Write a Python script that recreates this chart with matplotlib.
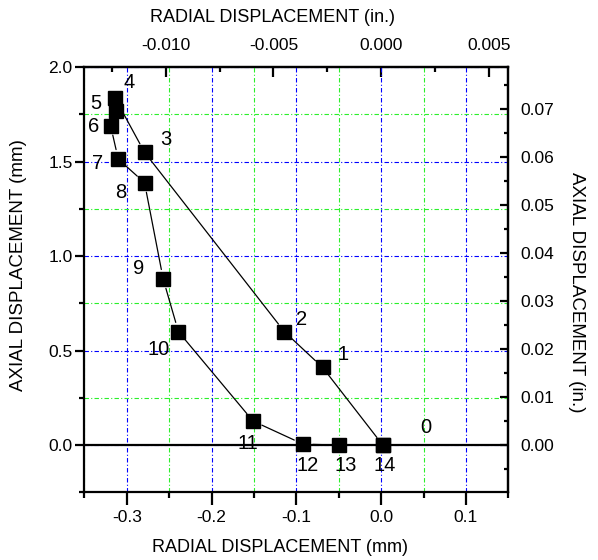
import matplotlib
matplotlib.use('Agg')
import matplotlib.pyplot as plt
from matplotlib.ticker import MultipleLocator, FuncFormatter

plt.rcParams['font.family'] = ['Liberation Sans', 'DejaVu Sans']
plt.rcParams['axes.unicode_minus'] = False

# load steps and the displacement path of the tracked point (mm)
steps = list(range(15))
radial_mm = [0.002, -0.069, -0.114, -0.279, -0.314, -0.313, -0.319, -0.310,
             -0.279, -0.257, -0.239, -0.151, -0.092, -0.050, 0.002]
axial_mm = [0.0, 0.411, 0.600, 1.550, 1.839, 1.770, 1.691, 1.514,
            1.389, 0.879, 0.600, 0.127, 0.005, 0.0, 0.0]

# labelled ticks of the inch scales
radial_in_ticks = [-0.010, -0.005, 0.000, 0.005]
axial_in_ticks = [0.00, 0.01, 0.02, 0.03, 0.04, 0.05, 0.06, 0.07]

# where each step number sits relative to its marker (pixels, y up)
label_offsets = [(43, 18), (20, 13), (17, 12), (21, 13), (14, 15), (-20, 7),
                 (-17, -1), (-21, -4), (-24, -10), (-25, 11), (-20, -18),
                 (-5, -22), (5, -21), (7, -20), (2, -20)]

MM_PER_IN = 25.4
GRID_LS = (0, (4, 2, 1, 2))


def fmt(decimals):
    return FuncFormatter(lambda v, p: f'{round(v, 6) + 0.0:.{decimals}f}')


fig = plt.figure(figsize=(5.98, 5.60), dpi=100)
ax = fig.add_axes([0.141, 0.1209, 0.709, 0.759])
ax.set_xlim(-0.35, 0.15)
ax.set_ylim(-0.25, 2.0)

# grid: blue on major, green on minor divisions
ax.xaxis.set_major_locator(MultipleLocator(0.1))
ax.xaxis.set_minor_locator(MultipleLocator(0.05))
ax.yaxis.set_major_locator(MultipleLocator(0.5))
ax.yaxis.set_minor_locator(MultipleLocator(0.25))
ax.grid(True, which='major', color='#0000ff', lw=0.8, ls=GRID_LS)
ax.grid(True, which='minor', color='#2af02a', lw=0.8, ls=GRID_LS)
ax.set_axisbelow(True)
ax.axhline(0.0, color='black', lw=1.6, zorder=2)

# path between consecutive steps, stopping short of the markers
for i in range(len(steps) - 1):
    ax.annotate('', xy=(radial_mm[i + 1], axial_mm[i + 1]),
                xytext=(radial_mm[i], axial_mm[i]),
                arrowprops=dict(arrowstyle='-', color='black', lw=0.9,
                                shrinkA=7, shrinkB=7), zorder=3)
ax.plot(radial_mm, axial_mm, ls='none', marker='s', ms=10,
        color='black', zorder=4)

for s, x, y, off in zip(steps, radial_mm, axial_mm, label_offsets):
    ax.annotate(str(s), (x, y), xytext=off, textcoords='offset pixels',
                ha='center', va='center', fontsize=14.5, zorder=5)

for side in ['left', 'right', 'top', 'bottom']:
    ax.spines[side].set_linewidth(1.6)

ax.tick_params(which='both', top=False, right=False, width=1.6, labelsize=12.5)
ax.tick_params(axis='x', which='major', direction='out', length=9, pad=4)
ax.tick_params(axis='x', which='minor', direction='out', length=4.5)
ax.tick_params(axis='y', which='major', direction='out', length=6.5, pad=2)
ax.tick_params(axis='y', which='minor', direction='out', length=3.5)
ax.xaxis.set_major_formatter(fmt(1))
ax.yaxis.set_major_formatter(fmt(1))

# inch scales on the opposite sides
top = ax.secondary_xaxis('top', functions=(lambda v: v / MM_PER_IN,
                                           lambda v: v * MM_PER_IN))
top.set_xticks(radial_in_ticks)
top.xaxis.set_minor_locator(MultipleLocator(0.0025))
top.xaxis.set_major_formatter(fmt(3))
top.tick_params(which='both', direction='in', width=1.6, labelsize=12.5)
top.tick_params(which='major', length=7, pad=10)
top.tick_params(which='minor', length=3.5)
top.spines['top'].set_linewidth(1.6)

right = ax.secondary_yaxis('right', functions=(lambda v: v / MM_PER_IN,
                                               lambda v: v * MM_PER_IN))
right.set_yticks(axial_in_ticks)
right.yaxis.set_minor_locator(MultipleLocator(0.005))
right.yaxis.set_major_formatter(fmt(2))
right.tick_params(which='both', direction='in', width=1.6, labelsize=12.5)
right.tick_params(which='major', length=6, pad=9)
right.tick_params(which='minor', length=3)
right.spines['right'].set_linewidth(1.6)

W, H = 598, 560
fig.text(280 / W, 1 - 548 / H, 'RADIAL DISPLACEMENT (mm)', ha='center',
         va='center', fontsize=13)
fig.text(272 / W, 1 - 18 / H, 'RADIAL DISPLACEMENT (in.)', ha='center',
         va='center', fontsize=13)
fig.text(19 / W, 1 - 265 / H, 'AXIAL DISPLACEMENT (mm)', ha='center',
         va='center', rotation=90, fontsize=13.5)
fig.text(577 / W, 1 - 292 / H, 'AXIAL DISPLACEMENT (in.)', ha='center',
         va='center', rotation=-90, fontsize=13.5)

fig.savefig('out.png', dpi=100)
